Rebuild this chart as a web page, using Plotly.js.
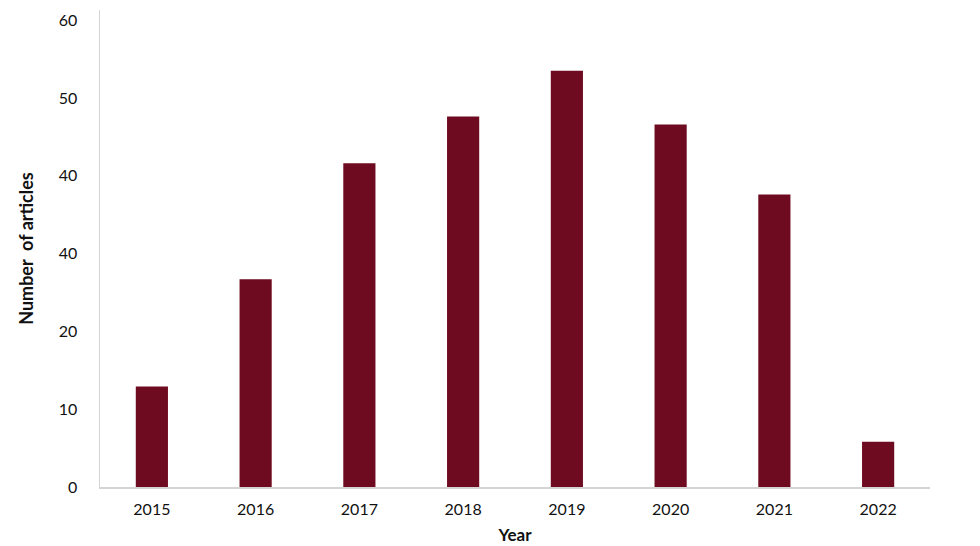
<!DOCTYPE html>
<html>
<head>
<meta charset="utf-8">
<script src="https://cdn.plot.ly/plotly-3.0.1.min.js"></script>
<style>html,body{margin:0;padding:0;background:#fff;}#chart{width:980px;height:546px;}</style>
</head>
<body>
<div id="chart"></div>
<script>
const years = ["2015", "2016", "2017", "2018", "2019", "2020", "2021", "2022"];
const articles = [12.9, 26.7, 41.6, 47.6, 53.5, 46.6, 37.6, 5.8];
const yTickValues = [0, 10, 20, 30, 40, 50, 60];
const yTickLabels = ["0", "10", "20", "40", "40", "50", "60"];

const font = "Lato, 'Open Sans', sans-serif";

Plotly.newPlot("chart", [{
  type: "bar",
  x: years,
  y: articles,
  marker: {color: "#6E0B21"},
  hoverinfo: "x+y"
}], {
  width: 980,
  height: 546,
  margin: {l: 100, r: 50, t: 10, b: 58.5},
  paper_bgcolor: "#fff",
  plot_bgcolor: "#fff",
  bargap: 0.69,
  showlegend: false,
  font: {family: font, size: 16, color: "#111"},
  xaxis: {
    type: "category",
    showline: true,
    linecolor: "#d4d4d4",
    linewidth: 1.5,
    showgrid: false,
    ticks: "",
    ticklabelstandoff: 7,
    tickfont: {family: font, size: 16, color: "#111"},
    title: {text: "<b>Year</b>", font: {family: font, size: 17, color: "#111"}, standoff: 12}
  },
  yaxis: {
    range: [0, 61.3],
    tickmode: "array",
    tickvals: yTickValues,
    ticktext: yTickLabels,
    showline: true,
    linecolor: "#d4d4d4",
    linewidth: 1.5,
    showgrid: false,
    zeroline: false,
    ticks: "",
    ticklabelstandoff: 18,
    tickfont: {family: font, size: 16, color: "#111"},
    title: {text: "<b>Number  of articles</b>", font: {family: font, size: 18, color: "#111"}, standoff: 20}
  }
}, {staticPlot: true, displayModeBar: false});
</script>
</body>
</html>
